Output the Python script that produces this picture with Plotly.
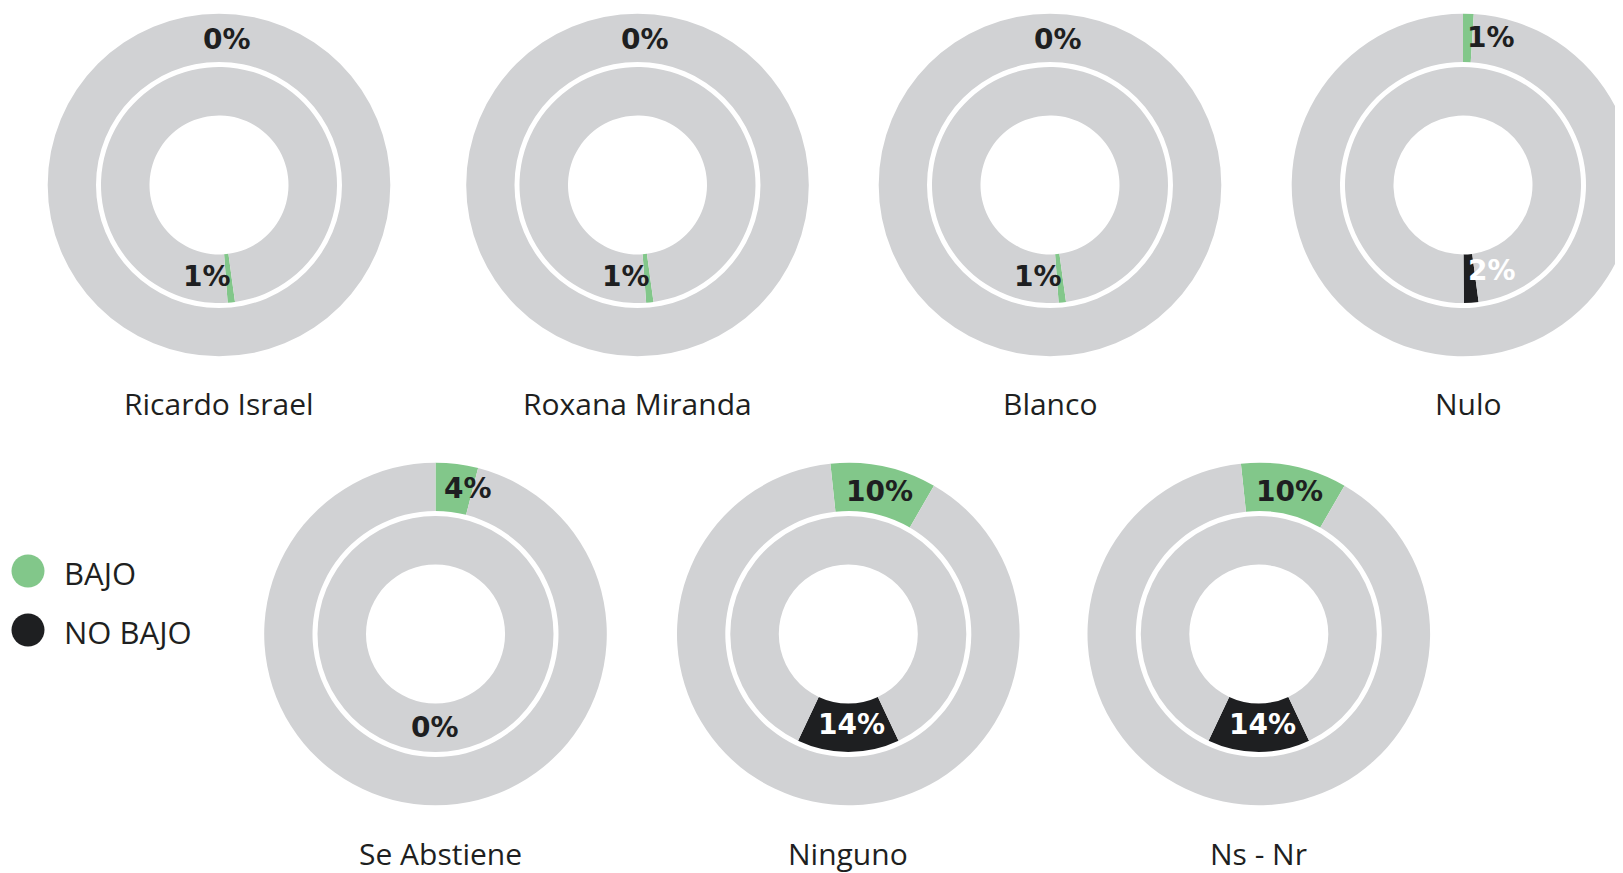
import math
import plotly.graph_objects as go

# ---------------- data ----------------
categories = ["Ricardo Israel", "Roxana Miranda", "Blanco", "Nulo",
              "Se Abstiene", "Ninguno", "Ns - Nr"]
bajo = [0, 0, 0, 1, 4, 10, 10]          # outer ring (%)
no_bajo = [1, 1, 1, 2, 0, 14, 14]       # inner ring (%)
legend_labels = ["BAJO", "NO BAJO"]

# ---------------- style / layout ----------------
OFF = 8                 # page body margin of the html page
W, H = 1640, 880        # figure size (a little wider than the window)
GREEN = "#82c78a"
BLACK = "#1e1f21"
GREY = "#d1d2d4"
TXT = "#1e1f21"

# centres in window pixels
centers = [(219, 185), (637.5, 185), (1050, 185), (1463, 185),
           (435.5, 634), (848.3, 634), (1258.8, 634)]
R_OUT, HOLE_OUT = 171.3, 0.718
R_IN, HOLE_IN = 118.0, 0.589

outer_rot = [0, 0, 0, 0, 0, -6, -6]                 # start angle of BAJO slice
inner_center = [174, 174, 174, 176, 180, 180, 180]  # centre angle of inner slice
inner_colors = [GREEN, GREEN, GREEN, BLACK, BLACK, BLACK, BLACK]
inner_txt_col = [TXT, TXT, TXT, "white", TXT, "white", "white"]

outer_lab_ang = [3, 3, 3, 10.7, 12.7, 12.3, 12.3]   # clockwise from top
outer_lab_r = [146, 146, 146, 150, 149, 146, 146]
inner_lab_ang = [-7.4, -7.4, -7.4, 18.8, -0.6, 1.9, 2.3]  # from bottom, + to the right
inner_lab_r = [92, 92, 92, 90, 94, 91, 91]
TITLE_DY = 219
title_dx = [0, 0, 0, 5, 5, 0, 0]

LABEL_FONT = dict(family="DejaVu Sans", size=28, color=TXT)
TITLE_FONT = dict(family="Open Sans", size=30, color=TXT)
LEGEND_FONT = dict(family="Open Sans", size=31, color=TXT)


def px(x):
    return (x - OFF) / W


def py(y):
    return 1 - (y - OFF) / H


def dom(cx, cy, r):
    return dict(x=[max(0.0, px(cx - r)), min(1.0, px(cx + r))],
                y=[max(0.0, py(cy + r)), min(1.0, py(cy - r))])


fig = go.Figure()
annotations = []

for i, name in enumerate(categories):
    cx, cy = centers[i]
    # outer ring: BAJO
    fig.add_trace(go.Pie(
        values=[bajo[i], 100 - bajo[i]],
        labels=["BAJO", "Resto"],
        marker=dict(colors=[GREEN, GREY], line=dict(width=0)),
        hole=HOLE_OUT, sort=False, direction="clockwise",
        rotation=outer_rot[i], textinfo="none",
        domain=dom(cx, cy, R_OUT), showlegend=False, name=name,
    ))
    # inner ring: NO BAJO
    a0 = no_bajo[i] * 3.6
    fig.add_trace(go.Pie(
        values=[no_bajo[i], 100 - no_bajo[i]],
        labels=["NO BAJO", "Resto"],
        marker=dict(colors=[inner_colors[i], GREY], line=dict(width=0)),
        hole=HOLE_IN, sort=False, direction="clockwise",
        rotation=inner_center[i] - a0 / 2, textinfo="none",
        domain=dom(cx, cy, R_IN), showlegend=False, name=name,
    ))

    # outer label
    ang = math.radians(outer_lab_ang[i])
    lx = cx + outer_lab_r[i] * math.sin(ang)
    ly = cy - outer_lab_r[i] * math.cos(ang)
    annotations.append(dict(x=px(lx), y=py(ly), xref="paper", yref="paper",
                            text=f"<b>{bajo[i]}%</b>", showarrow=False,
                            font=LABEL_FONT, xanchor="center", yanchor="middle"))
    # inner label
    ang = math.radians(inner_lab_ang[i])
    lx = cx + inner_lab_r[i] * math.sin(ang)
    ly = cy + inner_lab_r[i] * math.cos(ang)
    f = dict(LABEL_FONT)
    f["color"] = inner_txt_col[i]
    annotations.append(dict(x=px(lx), y=py(ly), xref="paper", yref="paper",
                            text=f"<b>{no_bajo[i]}%</b>", showarrow=False,
                            font=f, xanchor="center", yanchor="middle"))
    # title
    annotations.append(dict(x=px(cx + title_dx[i]), y=py(cy + TITLE_DY),
                            xref="paper", yref="paper", text=name,
                            showarrow=False, font=TITLE_FONT,
                            xanchor="center", yanchor="middle"))

# legend (custom, circles)
leg_x = [28, 28]
leg_y = [571, 630]
fig.add_trace(go.Scatter(
    x=[x - OFF for x in leg_x], y=[y - OFF for y in leg_y], mode="markers",
    marker=dict(size=33, color=[GREEN, BLACK], line=dict(width=0)),
    showlegend=False, hoverinfo="text", text=legend_labels,
))
for lab, yy in zip(legend_labels, leg_y):
    annotations.append(dict(x=px(62), y=py(yy + 2), xref="paper", yref="paper",
                            text=lab, showarrow=False, font=LEGEND_FONT,
                            xanchor="left", yanchor="middle"))

fig.update_layout(
    width=W, height=H, autosize=False,
    margin=dict(l=0, r=0, t=0, b=0),
    paper_bgcolor="white", plot_bgcolor="rgba(0,0,0,0)",
    xaxis=dict(range=[0, W], domain=[0, 1], visible=False, fixedrange=True),
    yaxis=dict(range=[H, 0], domain=[0, 1], visible=False, fixedrange=True),
    annotations=annotations,
    showlegend=False,
)

fig.write_html("out.html")
